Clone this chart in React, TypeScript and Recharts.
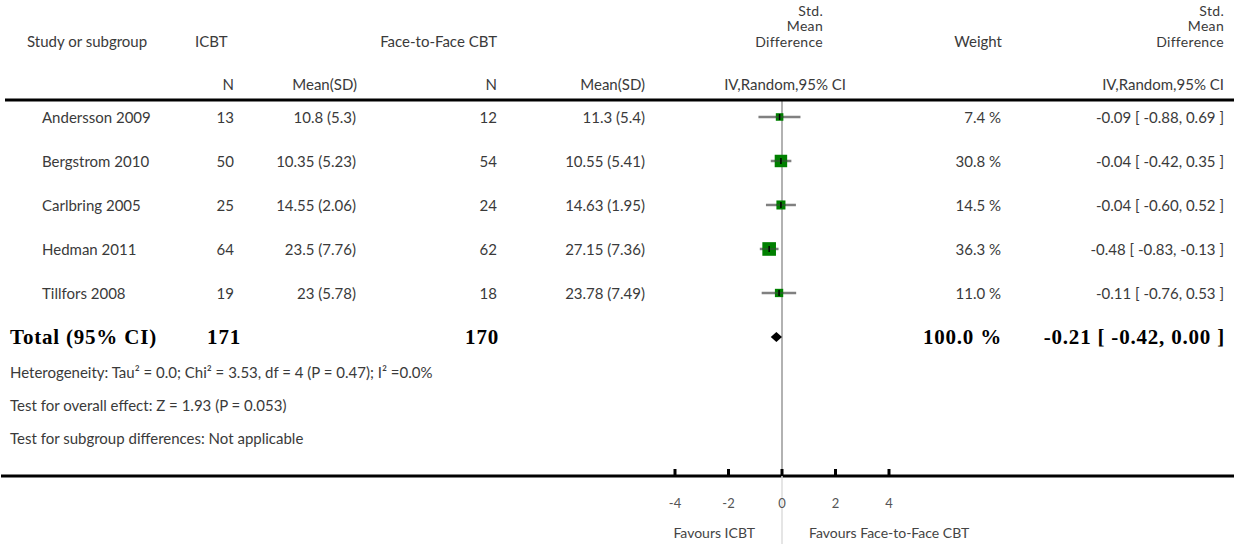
import { ScatterChart, Scatter, XAxis, YAxis, ErrorBar, ReferenceLine } from "recharts"

const studies = ["Andersson 2009", "Bergstrom 2010", "Carlbring 2005", "Hedman 2011", "Tillfors 2008"]
const icbtN = [13, 50, 25, 64, 19]
const icbtMeanSd = ["10.8 (5.3)", "10.35 (5.23)", "14.55 (2.06)", "23.5 (7.76)", "23 (5.78)"]
const f2fN = [12, 54, 24, 62, 18]
const f2fMeanSd = ["11.3 (5.4)", "10.55 (5.41)", "14.63 (1.95)", "27.15 (7.36)", "23.78 (7.49)"]
const smd = [-0.09, -0.04, -0.04, -0.48, -0.11]
const ciLow = [-0.88, -0.42, -0.6, -0.83, -0.76]
const ciHigh = [0.69, 0.35, 0.52, -0.13, 0.53]
const weights = [7.4, 30.8, 14.5, 36.3, 11.0]

const totalIcbtN = 171
const totalF2fN = 170
const totalWeight = 100.0
const totalSmd = -0.21
const totalLow = -0.42
const totalHigh = 0.0

const xTicks = [-4, -2, 0, 2, 4]

const W = 1234
const H = 544
const Y_AXIS_W = 1
const X_DOMAIN: [number, number] = [-29.196, 16.897]
const Y_DOMAIN: [number, number] = [-0.386, 8.16]
const PX_PER_UNIT = (W - Y_AXIS_W) / (X_DOMAIN[1] - X_DOMAIN[0])

const SANS = "Lato, 'Noto Sans', sans-serif"
const SERIF = "'Liberation Serif', 'Times New Roman', serif"
const TXT = "#3a3a3a"

const fmtCi = (m: number, l: number, h: number) => `${m.toFixed(2)} [ ${l.toFixed(2)}, ${h.toFixed(2)} ]`

const studyData = studies.map((name, i) => ({
  name,
  row: i,
  x: smd[i],
  weight: weights[i],
  err: [smd[i] - ciLow[i], ciHigh[i] - smd[i]],
}))

const totalRow = studies.length
const totalData = [{ row: totalRow, x: totalSmd, lo: totalLow, hi: totalHigh }]

function StudySquare(props: any) {
  const { cx, cy, payload } = props
  const s = 6 + payload.weight * 0.21
  return (
    <g>
      <rect x={cx - s / 2} y={cy - s / 2} width={s} height={s} fill="#008000" />
      <line x1={cx - s / 2} x2={cx + s / 2} y1={cy} y2={cy} stroke="#444" strokeWidth={1} />
      <line x1={cx} x2={cx} y1={cy - 3} y2={cy + 3} stroke="#000" strokeWidth={1.5} />
    </g>
  )
}

function TotalDiamond(props: any) {
  const { cx, cy, payload } = props
  const half = ((payload.hi - payload.lo) / 2) * PX_PER_UNIT
  const mid = cx + ((payload.lo + payload.hi) / 2 - payload.x) * PX_PER_UNIT
  return <polygon points={`${mid - half},${cy} ${mid},${cy - 5} ${mid + half},${cy} ${mid},${cy + 5}`} fill="#000" />
}

function RowTick(props: any) {
  const { y, payload } = props
  const i = payload.value
  const t = { fontFamily: SANS, fontSize: 15, fill: TXT, dominantBaseline: "central" as const }
  if (i < studies.length) {
    return (
      <g>
        <text x={42} y={y} {...t}>{studies[i]}</text>
        <text x={234} y={y} textAnchor="end" {...t}>{icbtN[i]}</text>
        <text x={356} y={y} textAnchor="end" {...t}>{icbtMeanSd[i]}</text>
        <text x={497} y={y} textAnchor="end" {...t}>{f2fN[i]}</text>
        <text x={645} y={y} textAnchor="end" {...t}>{f2fMeanSd[i]}</text>
        <text x={1001} y={y} textAnchor="end" {...t}>{`${weights[i].toFixed(1)} %`}</text>
        <text x={1224} y={y} textAnchor="end" {...t}>{fmtCi(smd[i], ciLow[i], ciHigh[i])}</text>
      </g>
    )
  }
  const b = { fontFamily: SERIF, fontSize: 21, fontWeight: 700, fill: "#000", letterSpacing: 0.8, dominantBaseline: "central" as const }
  return (
    <g>
      <text x={10} y={y} {...b}>Total (95% CI)</text>
      <text x={241} y={y} textAnchor="end" {...b}>{totalIcbtN}</text>
      <text x={499} y={y} textAnchor="end" {...b}>{totalF2fN}</text>
      <text x={1002} y={y} textAnchor="end" {...b}>{`${totalWeight.toFixed(1)} %`}</text>
      <text x={1225} y={y} textAnchor="end" {...b}>{fmtCi(totalSmd, totalLow, totalHigh)}</text>
    </g>
  )
}

function XTick(props: any) {
  const { x, y, payload } = props
  return (
    <g>
      {payload.value === 0 && <line x1={x} x2={x} y1={y} y2={H} stroke="#ddd" strokeWidth={1.5} />}
      <line x1={x} x2={x} y1={y - 7} y2={y} stroke="#000" strokeWidth={3} />
      <text x={x} y={y + 27} textAnchor="middle" dominantBaseline="central" fontFamily={SANS} fontSize={13} fill="#555">
        {payload.value}
      </text>
    </g>
  )
}

function Header() {
  const t = { fontFamily: SANS, fontSize: 15, fill: TXT, dominantBaseline: "central" as const }
  const s = { ...t, fontSize: 14, letterSpacing: 0.3 }
  return (
    <svg width={W} height={H} style={{ position: "absolute", left: 0, top: 0, pointerEvents: "none" }}>
      <text x={823} y={10} textAnchor="end" {...s}>Std.</text>
      <text x={823} y={25.5} textAnchor="end" {...s}>Mean</text>
      <text x={823} y={41} textAnchor="end" {...s}>Difference</text>
      <text x={1224} y={10} textAnchor="end" {...s}>Std.</text>
      <text x={1224} y={25.5} textAnchor="end" {...s}>Mean</text>
      <text x={1224} y={41} textAnchor="end" {...s}>Difference</text>
      <text x={27} y={41} {...t}>Study or subgroup</text>
      <text x={195} y={41} {...t}>ICBT</text>
      <text x={497} y={41} textAnchor="end" {...t}>Face-to-Face CBT</text>
      <text x={1002} y={41} textAnchor="end" {...t}>Weight</text>
      <text x={234} y={84} textAnchor="end" {...t}>N</text>
      <text x={357} y={84} textAnchor="end" {...t}>Mean(SD)</text>
      <text x={497} y={84} textAnchor="end" {...t}>N</text>
      <text x={645} y={84} textAnchor="end" {...t}>Mean(SD)</text>
      <text x={846} y={84} textAnchor="end" {...t}>IV,Random,95% CI</text>
      <text x={1224} y={84} textAnchor="end" {...t}>IV,Random,95% CI</text>
      <line x1={5} x2={W} y1={100} y2={100} stroke="#000" strokeWidth={3} />
      <text x={10} y={372} {...t}>Heterogeneity: Tau² = 0.0; Chi² = 3.53, df = 4 (P = 0.47); I² =0.0%</text>
      <text x={10} y={405} {...t}>Test for overall effect: Z = 1.93 (P = 0.053)</text>
      <text x={10} y={438} {...t}>Test for subgroup differences: Not applicable</text>
      <text x={755} y={532} textAnchor="end" {...t} fontSize={14} fill="#444">Favours ICBT</text>
      <text x={809} y={532} {...t} fontSize={14} fill="#444">Favours Face-to-Face CBT</text>
    </svg>
  )
}

export default function App() {
  return (
    <div style={{ position: "absolute", left: 0, top: 0, width: W, height: H, background: "#fff" }}>
      <ScatterChart width={W} height={H} margin={{ top: 100, right: 0, bottom: 0, left: 0 }}>
        <XAxis
          type="number"
          dataKey="x"
          domain={X_DOMAIN}
          allowDataOverflow
          ticks={xTicks}
          interval={0}
          height={68}
          tickSize={0}
          tickMargin={0}
          tickLine={false}
          axisLine={{ stroke: "#000", strokeWidth: 3 }}
          tick={<XTick />}
        />
        <YAxis
          type="number"
          dataKey="row"
          domain={Y_DOMAIN}
          allowDataOverflow
          reversed
          width={Y_AXIS_W}
          ticks={[...studies.map((_, i) => i), totalRow]}
          interval={0}
          axisLine={false}
          tickLine={false}
          tick={<RowTick />}
        />
        <ReferenceLine x={0} stroke="#999" strokeWidth={1.5} />
        <Scatter data={studyData} shape={<StudySquare />} isAnimationActive={false}>
          <ErrorBar dataKey="err" direction="x" width={0} stroke="#808080" strokeWidth={2.5} />
        </Scatter>
        <Scatter data={totalData} shape={<TotalDiamond />} isAnimationActive={false} />
      </ScatterChart>
      <Header />
    </div>
  )
}
